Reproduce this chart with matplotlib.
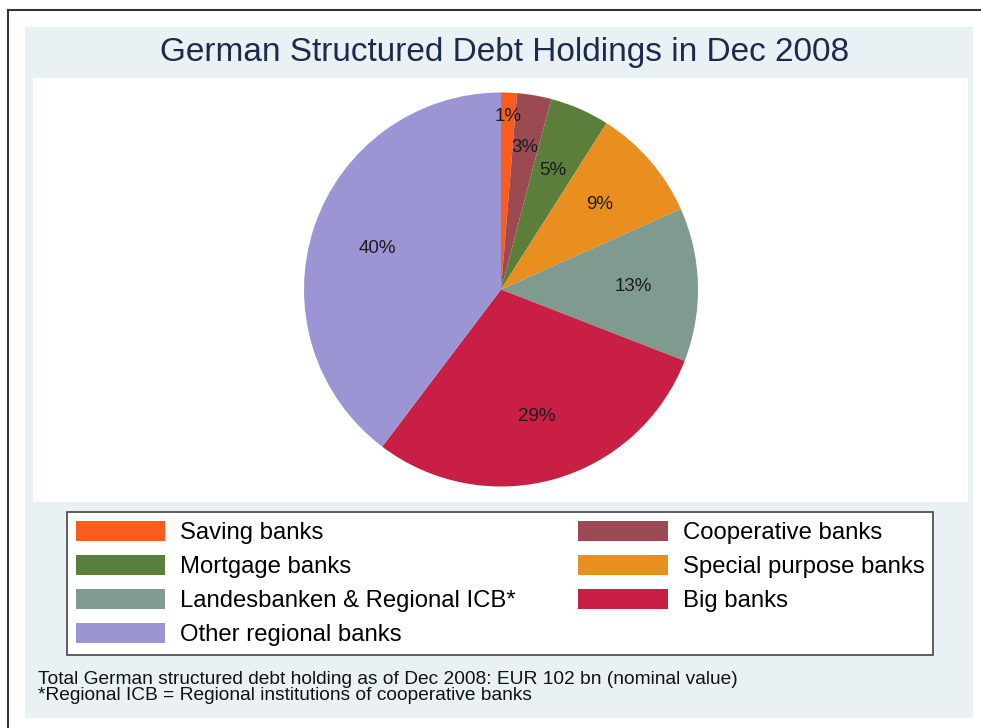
import matplotlib.pyplot as plt
import matplotlib.patches as mpatches
from matplotlib.lines import Line2D
import numpy as np

plt.rcParams['font.family'] = ['Liberation Sans', 'DejaVu Sans']

categories = ['Saving banks', 'Cooperative banks', 'Mortgage banks',
              'Special purpose banks', 'Landesbanken & Regional ICB*',
              'Big banks', 'Other regional banks']
shares = [1.3, 2.8, 4.9, 9.3, 12.6, 29.4, 39.7]
colors = ['#fa5c1e', '#9c4a52', '#5b7f3b', '#e88f1f', '#7f9b8f', '#c91f45', '#9c95d3']
label_dist = [0.88, 0.73, 0.66, 0.66, 0.67, 0.67, 0.66]

title = 'German Structured Debt Holdings in Dec 2008'
notes = ['Total German structured debt holding as of Dec 2008: EUR 102 bn (nominal value)',
         '*Regional ICB = Regional institutions of cooperative banks']

W, H = 981, 728
fig = plt.figure(figsize=(W / 100, H / 100), dpi=100)
fig.patch.set_facecolor('white')

def fx(x):
    return x / W

def fy(y):
    return 1 - y / H

# background panel and white plot region
fig.patches.append(mpatches.Rectangle((fx(25), fy(718)), fx(973 - 25), (718 - 27) / H,
                                      transform=fig.transFigure, facecolor='#eaf1f4',
                                      edgecolor='none', zorder=-2))
fig.patches.append(mpatches.Rectangle((fx(33), fy(502)), fx(968 - 33), (502 - 78) / H,
                                      transform=fig.transFigure, facecolor='white',
                                      edgecolor='none', zorder=-1))
# outer frame (top and left)
fig.lines.append(Line2D([fx(8), 1], [fy(10), fy(10)], transform=fig.transFigure,
                        color='#333333', lw=1.5))
fig.lines.append(Line2D([fx(8), fx(8)], [fy(10), 0], transform=fig.transFigure,
                        color='#333333', lw=1.5))

# pie
cx, cy, r = 501, 289.5, 197
ax = fig.add_axes([fx(cx - r), fy(cy + r), 2 * r / W, 2 * r / H])
ax.set_zorder(2)
wedges, texts, autotexts = ax.pie(shares, colors=colors, startangle=90, counterclock=False,
                                  autopct='%.0f%%', radius=1,
                                  wedgeprops=dict(linewidth=0),
                                  textprops=dict(fontsize=13.5, color='#1a1a24'))
for w, t, d in zip(wedges, autotexts, label_dist):
    ang = np.deg2rad((w.theta1 + w.theta2) / 2)
    t.set_position((d * np.cos(ang), d * np.sin(ang)))
ax.set_xlim(-1, 1)
ax.set_ylim(-1, 1)
ax.set_aspect('equal')
ax.axis('off')

fig.text(fx(505), fy(53), title, ha='center', va='center', fontsize=24, color='#1c2b4b')

# legend, row-wise order in two columns
order = [0, 2, 4, 6, 1, 3, 5]
handles = [mpatches.Patch(facecolor=colors[i], edgecolor='none', label=categories[i]) for i in order]
leg = fig.legend(handles=handles, ncol=2, mode='expand', loc='upper left',
                 bbox_to_anchor=(fx(67), fy(655), fx(933 - 67), (655 - 512) / H),
                 borderaxespad=0, fontsize=17.2, handlelength=3.75, handleheight=0.95,
                 handletextpad=0.62, labelspacing=0.44, borderpad=0.36,
                 fancybox=False, framealpha=1, edgecolor='#444444')
leg.get_frame().set_linewidth(1.2)
leg.set_zorder(3)

fig.text(fx(38), fy(679), notes[0], ha='left', va='center', fontsize=13.8, color='#111111')
fig.text(fx(38), fy(695), notes[1], ha='left', va='center', fontsize=13.8, color='#111111')

fig.savefig('out.png', dpi=100)
